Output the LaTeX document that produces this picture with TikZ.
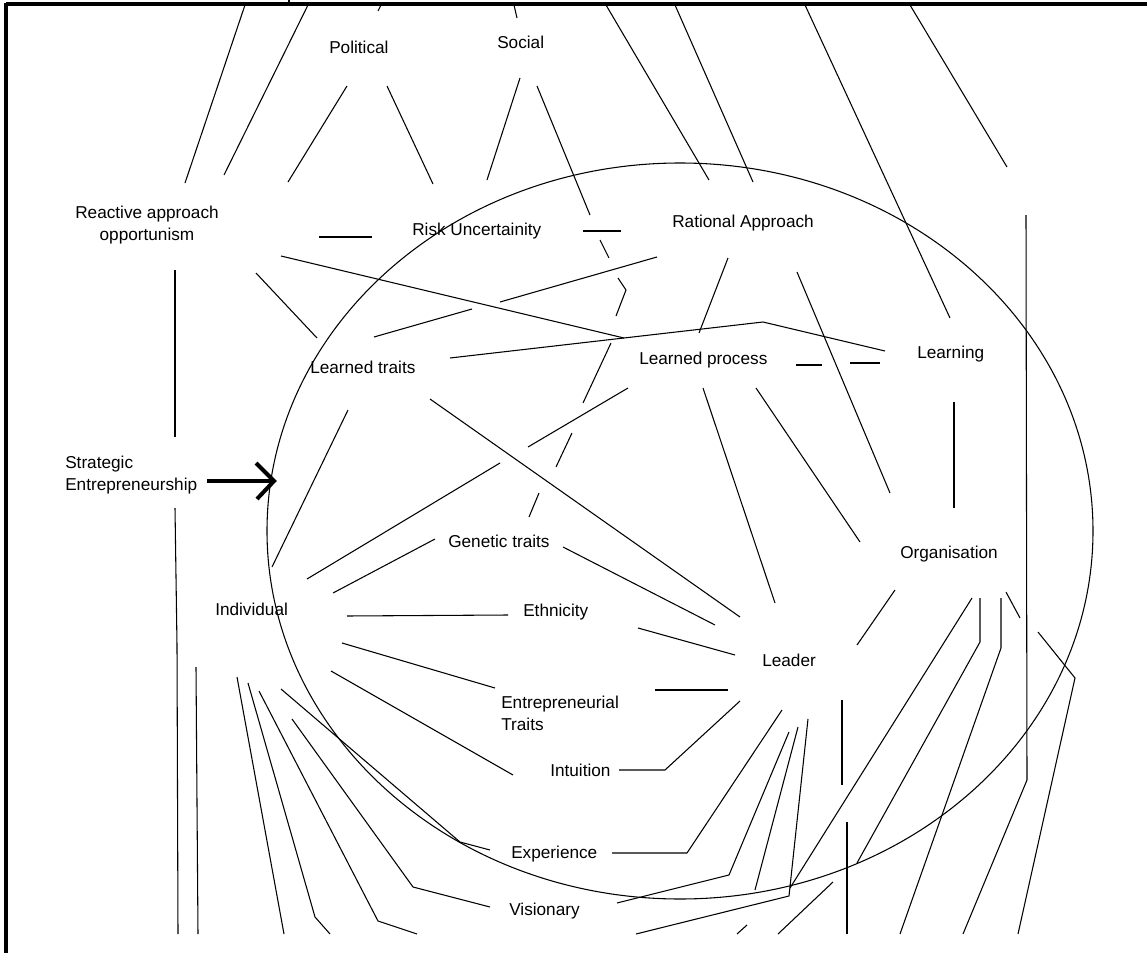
\documentclass[tikz,border=0pt]{standalone}
\usepackage{fontspec}
\setmainfont{Liberation Sans}
\begin{document}
\begin{tikzpicture}[x=0.75pt,y=-0.75pt,
  lbl/.style={inner sep=0pt,font=\fontsize{12.9pt}{16.5pt}\selectfont},
  ln/.style={line width=0.8pt,line join=round},
  frame/.style={line width=2.3pt},
  pointer/.style={line width=3pt,line join=miter}]
\useasboundingbox (0,0) rectangle (1147,953);

% table frame
\draw[frame] (6,4) -- (1147,4);
\draw[frame] (6,3) -- (6,953);
\draw[line width=1.5pt] (289,0) -- (289,4);

% labels
\node[lbl,anchor=base west] (political) at (329,53) {Political};
\node[lbl,anchor=base west] (social) at (497,48) {Social};
\node[lbl,anchor=north,align=center] (reactive) at (147,205.5) {Reactive approach\\opportunism};
\node[lbl,anchor=base west] (risk) at (412,235) {Risk Uncertainity};
\node[lbl,anchor=base west] (rational) at (672,227) {Rational Approach};
\node[lbl,anchor=base west] (ltraits) at (310,373) {Learned traits};
\node[lbl,anchor=base west] (lprocess) at (639,364) {Learned process};
\node[lbl,anchor=base west] (learning) at (917,358) {Learning};
\node[lbl,anchor=north west,align=left] (strategic) at (65,455.5) {Strategic\\Entrepreneurship};
\node[lbl,anchor=base west] (genetic) at (448,547) {Genetic traits};
\node[lbl,anchor=base west] (organisation) at (900,558) {Organisation};
\node[lbl,anchor=base west] (individual) at (215,615) {Individual};
\node[lbl,anchor=base west] (ethnicity) at (523,616) {Ethnicity};
\node[lbl,anchor=base west] (leader) at (762,666) {Leader};
\node[lbl,anchor=north west,align=left] (etraits) at (501,695.5) {Entrepreneurial\\Traits};
\node[lbl,anchor=base west] (intuition) at (550,776) {Intuition};
\node[lbl,anchor=base west] (experience) at (511,858) {Experience};
\node[lbl,anchor=base west] (visionary) at (509,915) {Visionary};

% the big ellipse
\draw[ln] (680,531) ellipse [x radius=309.75pt, y radius=276pt];

% pointer into the ellipse
\coordinate (ptail) at (207,481);
\coordinate (phead) at (274,481);
\draw[pointer] (ptail) -- (phead);
\draw[pointer] (256,463) -- (phead) -- (257,499);

\begin{scope}[ln]
% lines entering from the top edge
\draw (245,5) -- (185,183);
\draw (308,5) -- (224,175);
\draw (381,5) -- (378,11);
\draw (514,5) -- (517,18);
\draw (606,5) -- (709,180);
\draw (675,5) -- (753,182);
\draw (805,5) -- (950,318);
\draw (910,5) -- (1007,167);
% Political
\draw (347,86) -- (288,182);
\draw (387,86) -- (433,184);
% Social and its broken line
\draw (520,78) -- (487,180);
\draw (537,86) -- (590,215);
\draw (600,240) -- (609,258);
\draw (618,278) -- (626,290) -- (616,316);
\draw (611,343) -- (583,403);
\draw (572,433) -- (556,467);
\draw (539,493) -- (529,517);
% Risk Uncertainity
\draw (319,237) -- (372,237);
\draw (583,231) -- (621,231);
% Reactive approach
\draw (175,270) -- (175,437);
\draw (175,508) -- (177,645) -- (178,934);
\draw (281,256) -- (624,338);
\draw (256,273) -- (317,338);
% Rational Approach
\draw (657,257) -- (500,302);
\draw (472,309) -- (374,337);
\draw (728,258) -- (699,333);
\draw (797,272) -- (890,493);
% Learned traits
\draw (450,358) -- (763,322) -- (885,351);
\draw (348,410) -- (272,567);
\draw (430,399) -- (740,617);
% Learned process
\draw (796,365) -- (822,365);
\draw (850,363) -- (880,363);
\draw (703,388) -- (775,603);
\draw (756,388) -- (860,542);
% Learning
\draw (954,402) -- (954,508);
% right-hand lines
\draw (1026,215) -- (1027,780) -- (963,934);
\draw (1038,632) -- (1075,678) -- (1018,934);
% Organisation
\draw (895,590) -- (857,645);
\draw (972,598) -- (790,888);
\draw (980,598) -- (980,642) -- (857,863);
\draw (1001,598) -- (1001,648) -- (900,934);
\draw (1006,592) -- (1020,618);
% Individual
\draw (307,579) -- (500,463);
\draw (528,447) -- (628,388);
\draw (333,593) -- (435,539);
\draw (347,616) -- (508,615);
\draw (342,643) -- (495,688);
\draw (331,671) -- (513,775);
\draw (196,667) -- (197,803) -- (198,934);
\draw (237,677) -- (284,934);
\draw (248,683) -- (315,917) -- (330,934);
\draw (259,691) -- (378,921) -- (417,934);
\draw (281,689) -- (460,842) -- (490,850);
\draw (292,719) -- (413,887) -- (490,907);
% Genetic traits, Ethnicity, Entrepreneurial Traits
\draw (563,547) -- (715,625);
\draw (638,628) -- (735,655);
\draw (655,690) -- (728,690);
% Leader fan
\draw (619,770) -- (665,770) -- (740,701);
\draw (612,853) -- (687,853) -- (782,710);
\draw (617,903) -- (729,875) -- (789,732);
\draw (798,727) -- (755,890);
\draw (808,719) -- (789,896) -- (636,934);
\draw (833,882) -- (778,934);
\draw (747,925) -- (737,934);
\draw (842,700) -- (842,785);
\draw (847,822) -- (847,934);
\end{scope}
\end{tikzpicture}
\end{document}
